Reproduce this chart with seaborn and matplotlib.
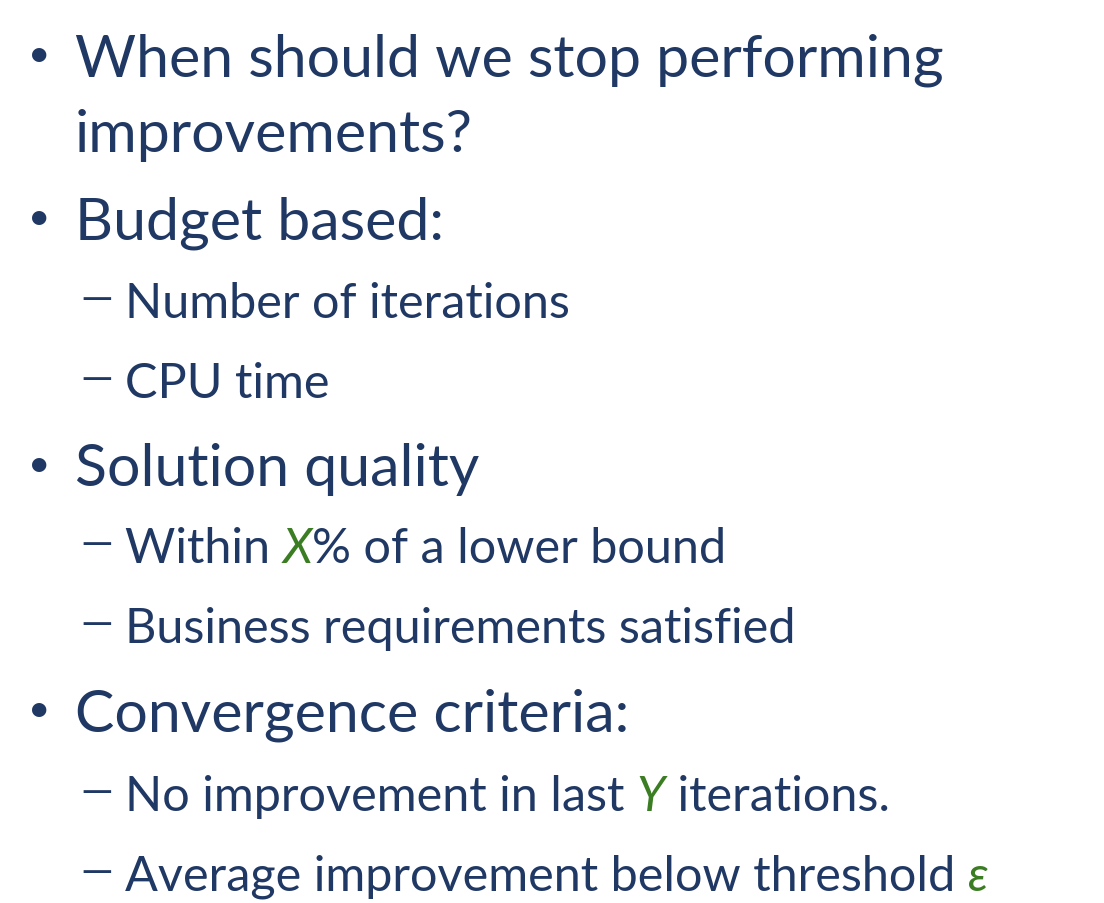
import matplotlib
matplotlib.use("Agg")
import matplotlib.pyplot as plt
import seaborn as sns

sns.set_theme(style="white")
plt.rcParams['font.family'] = ['Lato', 'DejaVu Sans']

NAVY = "#203864"
GREEN = "#3B7D23"

levels = [0, 0, 0, 1, 1, 0, 1, 1, 0, 1, 1]
ycent = [55, 130, 218, 300, 380, 465, 545, 625, 710, 793, 873]
lines = [
    [("When should we stop performing", False)],
    [("improvements?", False)],
    [("Budget based:", False)],
    [("Number of iterations", False)],
    [("CPU time", False)],
    [("Solution quality", False)],
    [("Within ", False), ("X", True), ("% of a lower bound", False)],
    [("Business requirements satisfied", False)],
    [("Convergence criteria:", False)],
    [("No improvement in last ", False), ("Y", True), (" iterations.", False)],
    [("Average improvement below threshold ", False), ("ε", True)],
]
bullet_line = [True, False, True, True, True, True, True, True, True, True, True]

W, H = 1104, 904
fig = plt.figure(figsize=(W / 100, H / 100), dpi=100)
fig.patch.set_facecolor("white")
ax = fig.add_axes([0, 0, 1, 1])
ax.set_xlim(0, W)
ax.set_ylim(H, 0)
ax.axis("off")
fig.canvas.draw()
r = fig.canvas.get_renderer()

for lvl, y, segs, b in zip(levels, ycent, lines, bullet_line):
    size = 42.5 if lvl == 0 else 35
    if b:
        if lvl == 0:
            ax.text(28, y, "•", fontsize=28, color=NAVY, va="center", ha="left")
        else:
            ax.text(80, y, "—", fontsize=size * 0.85, color=NAVY, va="center", ha="left")
    x = 75 if lvl == 0 else 125
    for txt, hl in segs:
        t = ax.text(x, y, txt, fontsize=size, color=GREEN if hl else NAVY,
                    style="italic" if hl else "normal", va="center_baseline", ha="left")
        bb = t.get_window_extent(renderer=r)
        x += bb.width

fig.savefig("out.png", dpi=100, facecolor="white")
